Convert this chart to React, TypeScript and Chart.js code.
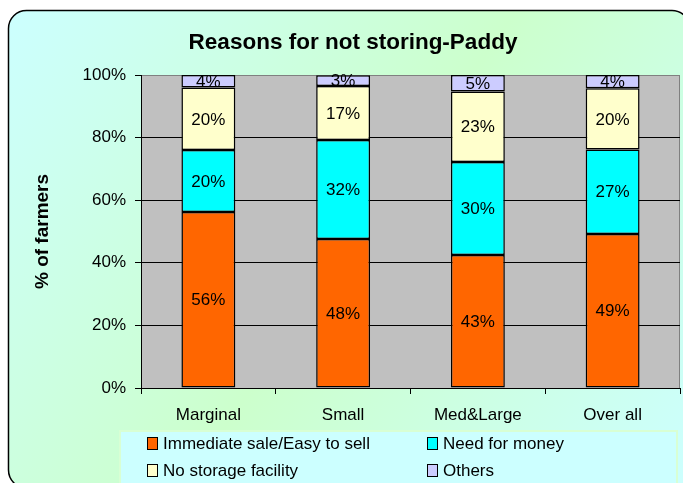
import React, { useEffect, useRef } from 'react';
import { Chart, registerables } from 'chart.js';

Chart.register(...registerables);

const categories = ['Marginal', 'Small', 'Med&Large', 'Over all'];
const immediateSale = [56.2, 47.6, 42.5, 49.2];
const needForMoney = [19.8, 31.6, 29.7, 27.0];
const noStorage = [20.0, 17.3, 22.5, 19.6];
const others = [4.0, 3.4, 5.3, 4.2];
const seriesNames = ['Immediate sale/Easy to sell', 'Need for money', 'No storage facility', 'Others'];
const seriesColors = ['#FF6600', '#00FFFF', '#FFFFCC', '#CCCCFF'];
const yTicks = [0, 20, 40, 60, 80, 100];
const chartTitle = 'Reasons for not storing-Paddy';
const yTitle = '% of farmers';

const FONT = 'Arial, "Liberation Sans", sans-serif';

const backgroundPlugin = {
  id: 'bg',
  beforeDraw(chart: any) {
    const ctx = chart.ctx;
    ctx.save();
    const x0 = 8.5, y0 = 10.5, x1 = 690, y1 = 488, r = 18;
    const g = ctx.createLinearGradient(x0, y0, x1, y1);
    g.addColorStop(0, '#CCFFFF');
    g.addColorStop(0.5, '#CCFFCC');
    g.addColorStop(1, '#CCFFFF');
    ctx.beginPath();
    ctx.roundRect(x0, y0, x1 - x0, y1 - y0, r);
    ctx.fillStyle = g;
    ctx.fill();
    ctx.lineWidth = 1.5;
    ctx.strokeStyle = '#000';
    ctx.stroke();
    const { left, top, right, bottom } = chart.chartArea;
    ctx.fillStyle = '#C0C0C0';
    ctx.fillRect(left, top, right - left, bottom - top);
    ctx.strokeStyle = '#808080';
    ctx.lineWidth = 1;
    ctx.beginPath();
    ctx.moveTo(right - 0.5, top);
    ctx.lineTo(right - 0.5, bottom);
    ctx.stroke();
    ctx.restore();
  },
};

const labelsPlugin = {
  id: 'valueLabels',
  afterDatasetsDraw(chart: any) {
    const ctx = chart.ctx;
    ctx.save();
    ctx.font = `17px ${FONT}`;
    ctx.fillStyle = '#000';
    ctx.textAlign = 'center';
    ctx.textBaseline = 'middle';
    chart.data.datasets.forEach((ds: any, di: number) => {
      const meta = chart.getDatasetMeta(di);
      meta.data.forEach((el: any, i: number) => {
        const v = ds.data[i];
        const cy = (el.y + el.base) / 2;
        ctx.fillText(Math.round(v) + '%', el.x, cy + 1);
      });
    });
    ctx.restore();
  },
};

const overlayPlugin = {
  id: 'overlay',
  afterDraw(chart: any) {
    const ctx = chart.ctx;
    ctx.save();
    ctx.font = `bold 22.5px ${FONT}`;
    ctx.fillStyle = '#000';
    ctx.textAlign = 'center';
    ctx.textBaseline = 'middle';
    ctx.fillText(chartTitle, 353, 43);
    const lx = 120, ly = 431, lw = 557, lh = 60;
    ctx.fillStyle = '#CCFFFF';
    ctx.fillRect(lx, ly, lw, lh);
    ctx.strokeStyle = '#D8FFD4';
    ctx.lineWidth = 2;
    ctx.strokeRect(lx, ly, lw, lh);
    const pos = [
      [147, 443], [427, 443], [147, 470], [427, 470],
    ];
    ctx.font = `17px ${FONT}`;
    ctx.textAlign = 'left';
    chart.data.datasets.forEach((ds: any, i: number) => {
      const [mx, my] = pos[i];
      ctx.fillStyle = ds.backgroundColor;
      ctx.fillRect(mx, my - 6, 10, 12);
      ctx.strokeStyle = '#000';
      ctx.lineWidth = 1;
      ctx.strokeRect(mx + 0.5, my - 5.5, 10, 12);
      ctx.fillStyle = '#000';
      ctx.fillText(ds.label, mx + 16, my + 1);
    });
    ctx.restore();
  },
};

export default function App() {
  const ref = useRef<HTMLCanvasElement | null>(null);
  useEffect(() => {
    if (!ref.current) return;
    const seriesData = [immediateSale, needForMoney, noStorage, others];
    const chart = new Chart(ref.current, {
      type: 'bar',
      data: {
        labels: categories,
        datasets: seriesNames.map((name, i) => ({
          label: name,
          data: seriesData[i],
          backgroundColor: seriesColors[i],
          borderColor: '#000',
          borderWidth: 1.5,
          borderSkipped: false,
          barPercentage: 0.4,
          categoryPercentage: 1,
        })),
      },
      options: {
        responsive: false,
        animation: false,
        layout: { padding: { left: 0, right: 3, top: 75, bottom: 0 } },
        plugins: {
          legend: { display: false },
          title: { display: false },
          tooltip: { enabled: false },
        },
        scales: {
          x: {
            stacked: true,
            grid: {
              offset: true,
              drawOnChartArea: false,
              drawTicks: true,
              tickLength: 6,
              color: '#000',
              lineWidth: 1,
            },
            border: { display: true, color: '#000', width: 1 },
            ticks: {
              color: '#000',
              font: { family: FONT, size: 17 },
              padding: 11,
              maxRotation: 0,
              autoSkip: false,
            },
            afterFit: (s: any) => { s.height = 95; },
          },
          y: {
            stacked: true,
            min: 0,
            max: 100,
            afterBuildTicks: (s: any) => { s.ticks = yTicks.map((v) => ({ value: v })); },
            grid: {
              color: (c: any) => (c.tick && c.tick.value === 100 ? '#808080' : '#000'),
              tickColor: '#000',
              tickLength: 6,
              drawTicks: true,
              lineWidth: 1,
            },
            border: { display: true, color: '#000', width: 1 },
            ticks: {
              callback: (v: any) => v + '%',
              color: '#000',
              font: { family: FONT, size: 17 },
              padding: 9,
            },
            title: {
              display: true,
              text: yTitle,
              color: '#000',
              font: { family: FONT, size: 19, weight: 'bold' },
              padding: { top: 31, bottom: 0 },
            },
            afterFit: (s: any) => { s.width = 141; },
          },
        },
      },
      plugins: [backgroundPlugin, labelsPlugin, overlayPlugin],
    });
    return () => chart.destroy();
  }, []);
  return (
    <div style={{ position: 'fixed', left: 0, top: 0, width: 683, height: 483, background: '#fff' }}>
      <canvas ref={ref} width={683} height={483} style={{ display: 'block' }} />
    </div>
  );
}
